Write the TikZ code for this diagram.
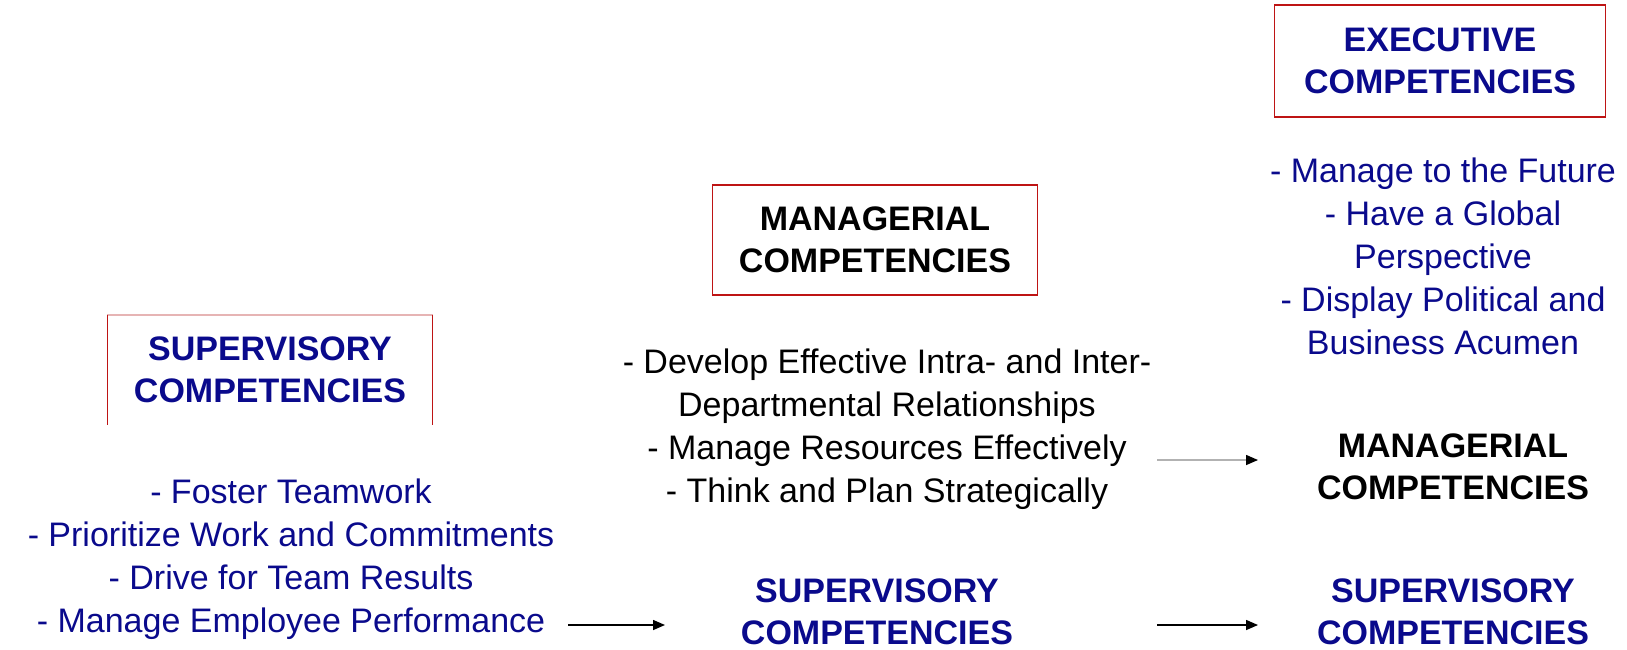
\documentclass[tikz,border=0pt]{standalone}
\usepackage{fontspec}
\setmainfont{Liberation Sans}
\usepackage{tikz}
\usetikzlibrary{arrows.meta}
\usetikzlibrary{positioning}

\definecolor{navy}{RGB}{10,10,140}
\definecolor{boxred}{RGB}{190,20,20}
\definecolor{palered}{RGB}{230,180,180}

\begin{document}
\begin{tikzpicture}[>={Triangle[length=12pt,width=10pt]}, x=1pt, y=-1pt]

            % Define styles
            \tikzstyle{heading} = [align=center, inner sep=0pt, font=\fontsize{34}{42}\selectfont\bfseries]
            \tikzstyle{items} = [align=center, inner sep=0pt, font=\fontsize{34}{43}\selectfont]
            \tikzstyle{levelbox} = [rectangle, minimum width=325pt, minimum height=110pt]
            \tikzstyle{flow} = [line width=1.5pt]

            \useasboundingbox (0,0) rectangle (1627,649);

            % Supervisory level
            \node[levelbox] (supbox) at (270, 370) {};
            \node[heading, navy] (suphead) at (supbox.center) {SUPERVISORY\\COMPETENCIES};
            \draw[palered, line width=1.5pt] (supbox.north west) -- (supbox.north east);
            \draw[boxred, line width=1.5pt] (supbox.north west) -- (supbox.south west);
            \draw[boxred, line width=1.5pt] (supbox.north east) -- (supbox.south east);
            \node[items, navy] (supitems) at (291, 559) {- Foster Teamwork\\- Prioritize Work and Commitments\\- Drive for Team Results\\- Manage Employee Performance};

            % Managerial level
            \node[levelbox, draw=boxred, line width=1.5pt] (mgrbox) at (875, 240) {};
            \node[heading] (mgrhead) at (mgrbox.center) {MANAGERIAL\\COMPETENCIES};
            \node[items] (mgritems) at (887, 429) {- Develop Effective Intra- and Inter-\\Departmental Relationships\\- Manage Resources Effectively\\- Think and Plan Strategically};
            \node[heading, navy] (supmid) at (877, 612) {SUPERVISORY\\COMPETENCIES};

            % Executive level
            \node[levelbox, draw=boxred, line width=1.5pt, minimum width=331pt, minimum height=112pt] (exebox) at (1440, 61) {};
            \node[heading, navy] (exehead) at (exebox.center) {EXECUTIVE\\COMPETENCIES};
            \node[items, navy] (exeitems) at (1443, 256) {- Manage to the Future\\- Have a Global\\Perspective\\- Display Political and\\Business Acumen};
            \node[heading] (mgrright) at (1453, 467) {MANAGERIAL\\COMPETENCIES};
            \node[heading, navy] (supright) at (1453, 612) {SUPERVISORY\\COMPETENCIES};

            % Arrow ends
            \coordinate (a1) at (568, 625);
            \coordinate (b1) at (665, 625);
            \coordinate (a2) at (1157, 625);
            \coordinate (b2) at (1258, 625);
            \coordinate (a3) at (1157, 460);
            \coordinate (b3) at (1258, 460);

            % Carry-over arrows
            \draw[flow, ->] (a1) -- (b1);
            \draw[flow, ->] (a2) -- (b2);
            \draw[flow, draw=black!30, -{Triangle[length=12pt,width=10pt,color=black]}] (a3) -- (b3);

        \end{tikzpicture}
\end{document}
